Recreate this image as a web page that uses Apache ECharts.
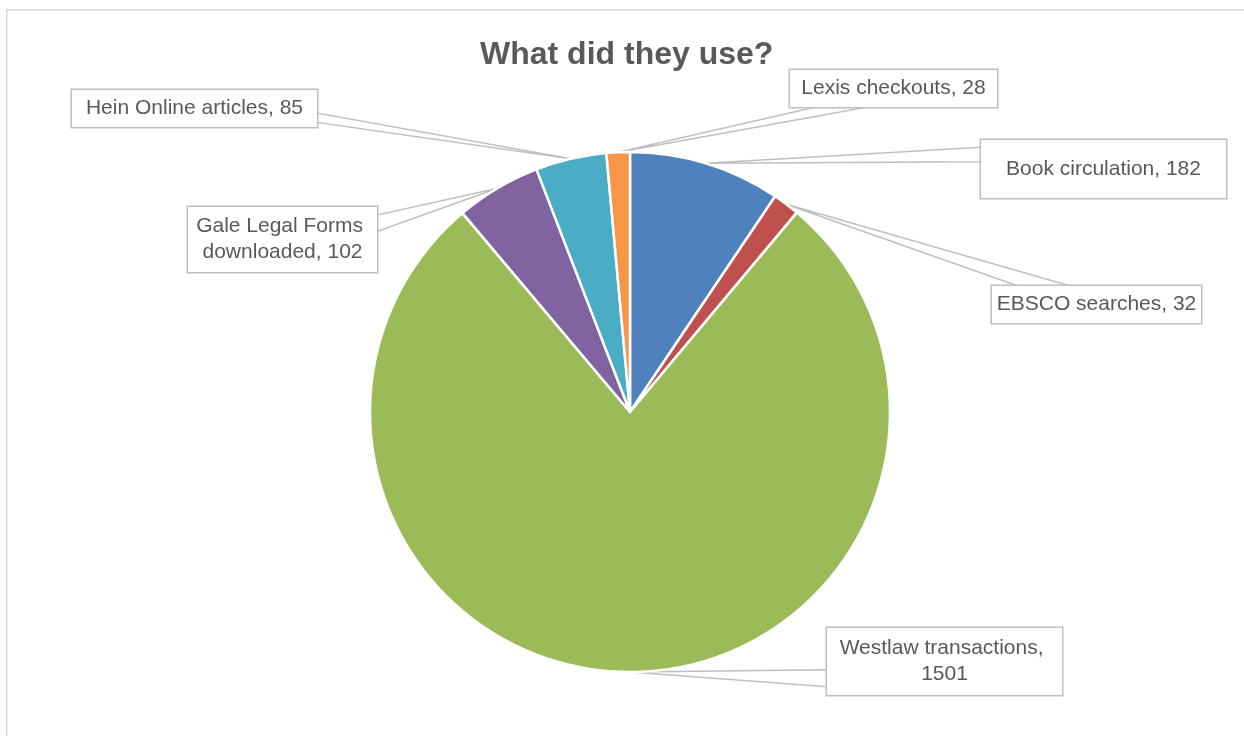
<!DOCTYPE html>
<html><head><meta charset="utf-8">
<script src="https://cdn.jsdelivr.net/npm/echarts@6/dist/echarts.min.js"></script>
<style>html,body{margin:0;padding:0;background:#fff}#c{width:1244px;height:736px}</style>
</head><body><div id="c"></div>
<script>
const titleText = 'What did they use?';
const categories = ['Book circulation', 'EBSCO searches', 'Westlaw transactions', 'Gale Legal Forms downloaded', 'Hein Online articles', 'Lexis checkouts'];
const values = [182, 32, 1501, 102, 85, 28];
const colors = ['#4F81BD', '#C0504D', '#9BBB59', '#8064A2', '#4BACC6', '#F79646'];

// callout box layout: centre x, centre y, width, height (px)
const boxes = [
  [1103.5, 169, 245, 58],
  [1096.5, 304.5, 209, 37],
  [944.5, 661.5, 235, 67],
  [282.5, 239.5, 189, 65],
  [194.5, 108.5, 245, 37],
  [893.5, 88.5, 207, 37]
];

function wedge(tip, b) {
  const cx = b[0], cy = b[1], w = b[2], h = b[3];
  const dx = tip[0] - cx, dy = tip[1] - cy;
  const tx = dx !== 0 ? (w / 2) / Math.abs(dx) : Infinity;
  const ty = dy !== 0 ? (h / 2) / Math.abs(dy) : Infinity;
  let a, c;
  if (tx < ty) {
    const x = cx + Math.sign(dx) * w / 2;
    const s = Math.sign(dy) || 1;
    a = [x, cy + s * h / 8]; c = [x, cy + s * 3 * h / 8];
  } else {
    const y = cy + Math.sign(dy) * h / 2;
    const s = Math.sign(dx) || 1;
    a = [cx + s * w / 8, y]; c = [cx + s * 3 * w / 8, y];
  }
  return [tip, a, c, tip];
}

const data = categories.map((n, i) => ({
  name: n,
  value: values[i],
  itemStyle: { color: colors[i] },
  label: { width: boxes[i][2], height: boxes[i][3] }
}));

const chart = echarts.init(document.getElementById('c'), null, { renderer: 'canvas' });
chart.setOption({
  animation: false,
  backgroundColor: '#fff',
  title: {
    text: titleText,
    left: 480,
    top: 34,
    padding: [5, 0, 5, 0],
    textStyle: { fontFamily: 'Liberation Sans', fontSize: 32, fontWeight: 'bold', color: '#595959' }
  },
  graphic: [{
    type: 'rect', silent: true, z: -1,
    shape: { x: 6.75, y: 9.75, width: 1300, height: 800 },
    style: { fill: 'none', stroke: '#D9D9D9', lineWidth: 1.5 }
  }],
  series: [{
    type: 'pie',
    center: [630, 412],
    radius: 260,
    startAngle: 90,
    clockwise: true,
    avoidLabelOverlap: false,
    emphasis: { scale: false },
    itemStyle: { borderColor: '#fff', borderWidth: 2.5 },
    label: {
      show: true,
      position: 'outside',
      formatter: '{b}, {c}',
      fontFamily: 'Liberation Sans',
      fontSize: 21,
      lineHeight: 26,
      color: '#595959',
      backgroundColor: '#fff',
      borderColor: '#BFBFBF',
      borderWidth: 1.5,
      padding: 0,
      overflow: 'break',
      align: 'center'
    },
    labelLine: { show: true, length: 10, length2: 10, smooth: false, lineStyle: { color: '#BFBFBF', width: 1.5 } },
    labelLayout: function (p) {
      const b = boxes[p.dataIndex];
      return {
        x: b[0], y: b[1], align: 'center', verticalAlign: 'middle',
        labelLinePoints: wedge(p.labelLinePoints[0], b)
      };
    },
    data: data
  }]
});
</script></body></html>
